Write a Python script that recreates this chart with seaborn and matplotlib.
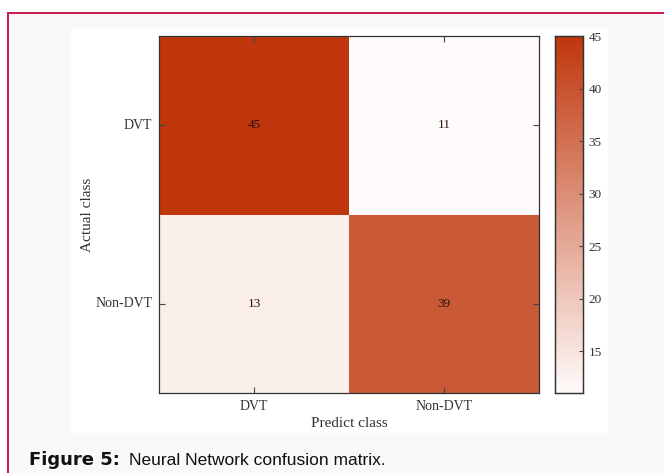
import numpy as np
import pandas as pd
import seaborn as sns
import matplotlib.pyplot as plt
from matplotlib.colors import LinearSegmentedColormap
from matplotlib.patches import Rectangle

# Confusion matrix of the neural network classifier
actual_classes = ["DVT", "Non-DVT"]
predicted_classes = ["DVT", "Non-DVT"]
counts_dvt = [45, 11]
counts_non_dvt = [13, 39]
cbar_ticks = [15, 20, 25, 30, 35, 40, 45]

matrix = pd.DataFrame([counts_dvt, counts_non_dvt],
                      index=actual_classes, columns=predicted_classes)

sns.set_theme(style="ticks")
plt.rcParams["font.family"] = ["Liberation Serif", "DejaVu Serif"]
plt.rcParams.update({
    "xtick.direction": "in", "ytick.direction": "in",
    "xtick.major.size": 4, "ytick.major.size": 4,
    "xtick.major.width": 0.8, "ytick.major.width": 0.8,
    "xtick.color": "#444444", "ytick.color": "#444444",
})

W, H = 664, 473
fig = plt.figure(figsize=(W / 100, H / 100), dpi=100)
fig.patch.set_facecolor("white")


def fx(px):
    return px / W


def fy(py):
    return 1 - py / H


# page frame and white figure panel
fig.add_artist(Rectangle((fx(8), fy(900)), 2, fy(13) - fy(900),
                         transform=fig.transFigure, facecolor="#faf8f8",
                         edgecolor="#c8194b", linewidth=1.4, zorder=0))
fig.add_artist(Rectangle((fx(71), fy(433)), fx(608) - fx(71), fy(28) - fy(433),
                         transform=fig.transFigure, facecolor="white",
                         edgecolor="none", zorder=0))

ax = fig.add_axes([fx(159), fy(393), fx(539) - fx(159), fy(36) - fy(393)])
cax = fig.add_axes([fx(555), fy(393), fx(583) - fx(555), fy(36) - fy(393)])

cmap = LinearSegmentedColormap.from_list("wr", ["#fffbfa", "#bf360c"])
sns.heatmap(matrix, ax=ax, cbar_ax=cax, cmap=cmap, vmin=11, vmax=45,
            annot=True, fmt="d",
            annot_kws={"fontsize": 9.5, "color": "#2a1510"},
            cbar_kws={"ticks": cbar_ticks})

for s in ax.spines.values():
    s.set_visible(True)
    s.set_color("#333333")
    s.set_linewidth(0.9)
    s.set_zorder(5)

ax.tick_params(axis="both", which="major", direction="in", length=4,
               width=0.8, color="#444444", labelsize=10, labelcolor="#333333",
               top=True, right=True, bottom=True, left=True,
               labelbottom=True, labelleft=True, labeltop=False,
               labelright=False, pad=5)
for t in ax.xaxis.get_major_ticks() + ax.yaxis.get_major_ticks():
    t.tick1line.set_zorder(6)
    t.tick2line.set_zorder(6)
ax.set_axisbelow(False)
ax.set_yticklabels(actual_classes, rotation=0)
ax.set_xticklabels(predicted_classes, rotation=0)
ax.set_xlabel("Predict class", fontsize=11, color="#333333", labelpad=3)
ax.set_ylabel("Actual class", fontsize=11, color="#333333", labelpad=1)

cax.tick_params(direction="in", length=3, width=0.8, color="#444444",
                labelsize=9.5, labelcolor="#333333", pad=4,
                right=True, left=False)
cax.set_axisbelow(False)
for s in cax.spines.values():
    s.set_visible(True)
    s.set_color("#333333")
    s.set_linewidth(0.9)

fig.text(fx(29), fy(465), "Figure 5:", fontsize=13, fontweight="bold",
         family=["DejaVu Sans"], color="#111111", va="baseline")
fig.text(fx(129), fy(465), "Neural Network confusion matrix.",
         fontsize=12.5, family=["Liberation Sans", "DejaVu Sans"],
         color="#111111", va="baseline")

fig.savefig("out.png", dpi=100)
